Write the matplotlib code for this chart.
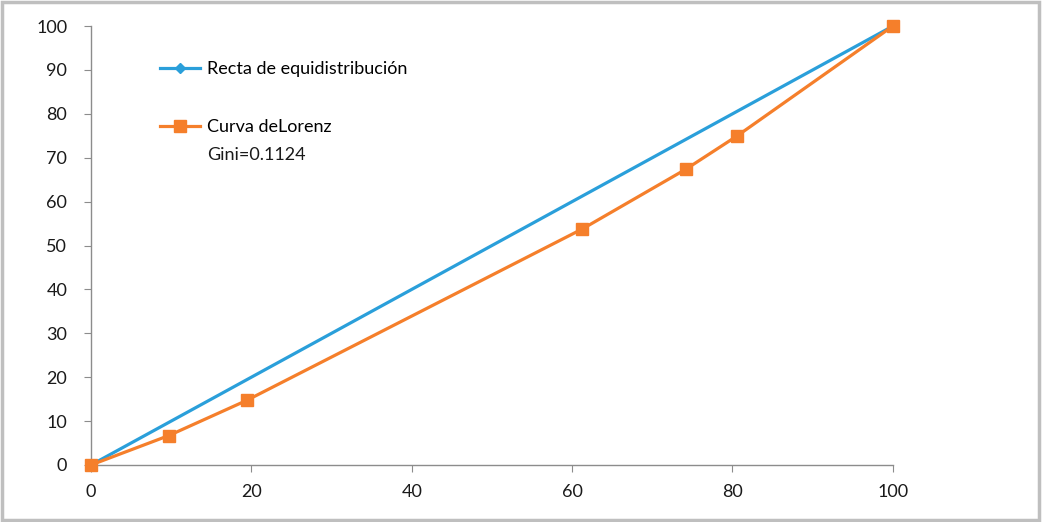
import matplotlib
matplotlib.use("Agg")
import matplotlib.pyplot as plt
from matplotlib.patches import Rectangle
from matplotlib.lines import Line2D

# Data
equi_x = [0, 100]
equi_y = [0, 100]
lorenz_x = [0, 9.7, 19.4, 61.3, 74.2, 80.6, 100]
lorenz_y = [0, 6.7, 14.7, 53.8, 67.4, 75.0, 100]
xticks = [0, 20, 40, 60, 80, 100]
yticks = [0, 10, 20, 30, 40, 50, 60, 70, 80, 90, 100]
label_equi = "Recta de equidistribución"
label_lorenz = "Curva deLorenz"
gini_text = "Gini=0.1124"

BLUE = "#2A9FDA"
ORANGE = "#F57F2B"

plt.rcParams['font.family'] = ['Lato', 'DejaVu Sans']

fig = plt.figure(figsize=(10.43, 5.22), dpi=100)
ax = fig.add_axes([0.0872, 0.1092, 0.856 - 0.0872, 0.950 - 0.1092])

ax.plot(equi_x, equi_y, color=BLUE, lw=2.3, marker='D', markersize=5,
        markevery=[], zorder=2, clip_on=False)
ax.plot(lorenz_x, lorenz_y, color=ORANGE, lw=2.3, marker='s', markersize=9,
        zorder=3, clip_on=False)

ax.set_xlim(0, 100)
ax.set_ylim(0, 100)
ax.set_xticks(xticks)
ax.set_yticks(yticks)
for s in ['top', 'right']:
    ax.spines[s].set_visible(False)
for s in ['left', 'bottom']:
    ax.spines[s].set_color('#8C8C8C')
    ax.spines[s].set_linewidth(1.0)
ax.tick_params(axis='both', direction='out', length=5, color='#8C8C8C',
               labelsize=13, labelcolor='#1A1A1A')
ax.tick_params(axis='y', pad=12)
ax.tick_params(axis='x', pad=9)

fs = 13
h1 = Line2D([], [], color=BLUE, lw=2.3, marker='D', markersize=5)
h2 = Line2D([], [], color=ORANGE, lw=2.3, marker='s', markersize=8)
leg = ax.legend([h1, h2], [label_equi, label_lorenz], loc='upper left',
                bbox_to_anchor=(0.0773, 0.936), borderaxespad=0,
                frameon=False, fontsize=fs, handlelength=2.2,
                handletextpad=0.4, labelspacing=2.3)
ax.text(0.1446, 0.706, gini_text, transform=ax.transAxes, fontsize=fs,
        ha='left', va='center', color='#1A1A1A')

fig.add_artist(Rectangle((0.0015, 0.003), 0.995, 0.993, transform=fig.transFigure,
                         fill=False, edgecolor='#BFBFBF', lw=2.5))

fig.savefig("out.png", dpi=100)
